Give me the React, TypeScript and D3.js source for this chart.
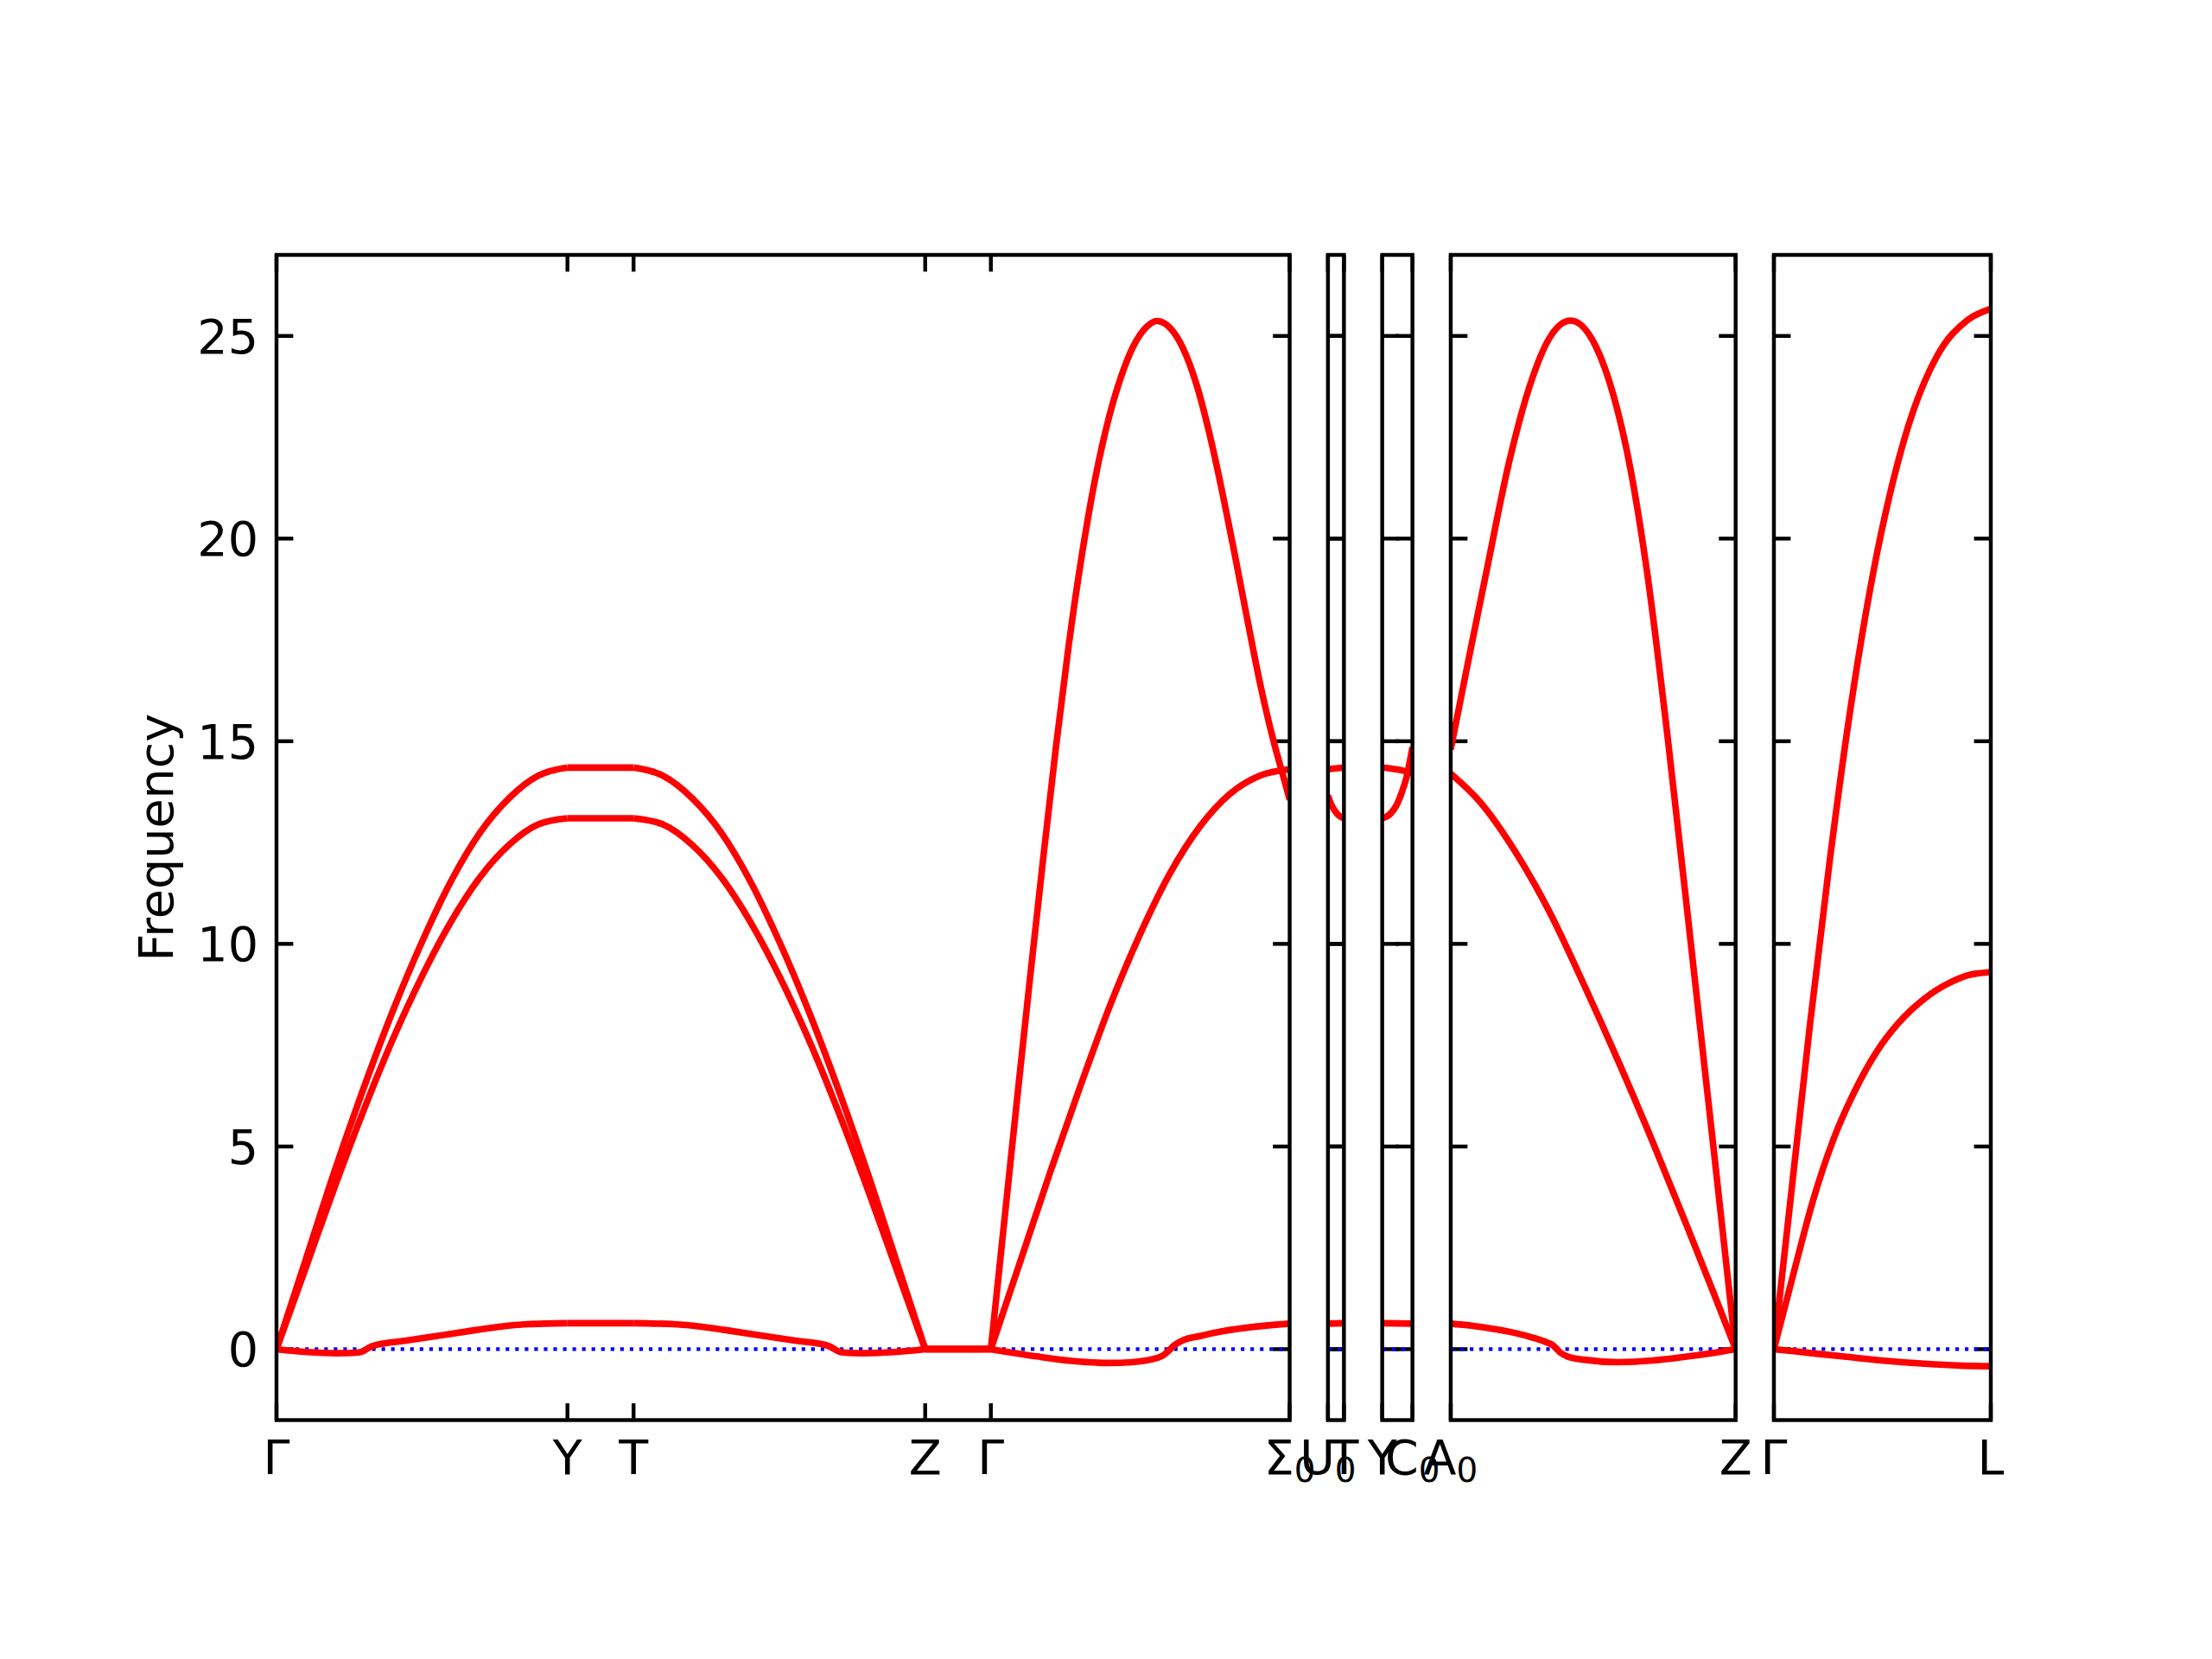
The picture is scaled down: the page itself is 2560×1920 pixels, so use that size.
import React from "react";
import * as d3 from "d3";

type Pt = [number, number];

// ---------------- data ----------------
const Y_DOMAIN: [number, number] = [-1.75, 27];
const FREQ_TICKS = [0, 5, 10, 15, 20, 25];
const Y_LABEL = "Frequency";

// Panel 1: Γ–Y–T–Z–Γ–Σ0
const P1_TICKS = [0, 0.3367, 0.4132, 0.7507, 0.8267, 1.1725];
const P1_LABELS = ["Γ", "Y", "T", "Z", "Γ", "Σ_0"];
const P1_BAND_A: Pt[] = [
  [0, 0], [0.0337, 2.2], [0.0673, 4.4], [0.101, 6.45], [0.1347, 8.35], [0.1684, 10.05],
  [0.202, 11.55], [0.2357, 12.75], [0.2694, 13.6], [0.303, 14.15], [0.3367, 14.35],
  [0.4132, 14.35], [0.447, 14.15], [0.4807, 13.6], [0.5145, 12.75], [0.5482, 11.55],
  [0.582, 10.05], [0.6157, 8.35], [0.6495, 6.45], [0.6832, 4.4], [0.717, 2.2], [0.7507, 0],
  [0.8267, 0], [0.8417, 3.05], [0.8567, 6.1], [0.8717, 9.1], [0.8867, 12.0], [0.9017, 14.8],
  [0.9167, 17.35], [0.9317, 19.55], [0.9467, 21.4], [0.9617, 22.85], [0.9767, 23.95],
  [0.9917, 24.75], [1.0067, 25.22], [1.019, 25.37], [1.034, 25.2], [1.049, 24.7],
  [1.064, 23.85], [1.079, 22.65], [1.094, 21.2], [1.109, 19.6], [1.124, 17.95],
  [1.139, 16.35], [1.1545, 14.95], [1.1633, 14.27], [1.1725, 13.56],
];
const P1_BAND_B: Pt[] = [
  [0, 0], [0.0337, 2.0], [0.0673, 4.0], [0.101, 5.9], [0.1347, 7.65], [0.1684, 9.2],
  [0.202, 10.55], [0.2357, 11.65], [0.2694, 12.45], [0.303, 12.95], [0.3367, 13.1],
  [0.4132, 13.1], [0.447, 12.95], [0.4807, 12.45], [0.5145, 11.65], [0.5482, 10.55],
  [0.582, 9.2], [0.6157, 7.65], [0.6495, 5.9], [0.6832, 4.0], [0.717, 2.0], [0.7507, 0],
  [0.8267, 0], [0.8613, 2.2], [0.8959, 4.4], [0.9304, 6.5], [0.965, 8.5], [0.9996, 10.25],
  [1.0342, 11.75], [1.0688, 12.9], [1.1033, 13.7], [1.1379, 14.15], [1.1725, 14.31],
];
const P1_BAND_C: Pt[] = [
  [0, 0], [0.035, -0.07], [0.07, -0.1], [0.095, -0.08], [0.102, -0.03], [0.108, 0.05],
  [0.115, 0.1], [0.15, 0.21], [0.19, 0.34], [0.23, 0.47], [0.26, 0.56], [0.29, 0.615],
  [0.3367, 0.64], [0.4132, 0.64], [0.46, 0.615], [0.49, 0.56], [0.52, 0.47], [0.56, 0.34],
  [0.6, 0.21], [0.636, 0.1], [0.642, 0.05], [0.648, -0.03], [0.655, -0.08], [0.68, -0.1],
  [0.715, -0.07], [0.7507, 0], [0.8267, 0], [0.88, -0.18], [0.92, -0.29], [0.963, -0.34],
  [0.99, -0.32], [1.013, -0.25], [1.027, -0.14], [1.033, -0.03], [1.038, 0.08], [1.047, 0.2],
  [1.07, 0.33], [1.097, 0.45], [1.13, 0.55], [1.1725, 0.63],
];

// Panel 2: U0–T
const P2_TICKS = [1.1725, 1.191];
const P2_LABELS = ["U_0", "T"];
const P2_BAND_A: Pt[] = [[1.1725, 14.31], [1.191, 14.35]];
const P2_BAND_B: Pt[] = [[1.1725, 13.66], [1.176, 13.45], [1.18, 13.3], [1.185, 13.17], [1.191, 13.1]];
const P2_BAND_C: Pt[] = [[1.1725, 0.63], [1.191, 0.64]];

// Panel 3: Y–C0
const P3_TICKS = [1.191, 1.226];
const P3_LABELS = ["Y", "C_0"];
const P3_BAND_A: Pt[] = [[1.191, 14.35], [1.2, 14.33], [1.21, 14.3], [1.218, 14.26], [1.226, 14.22]];
const P3_BAND_B: Pt[] = [[1.191, 13.1], [1.2, 13.2], [1.207, 13.4], [1.213, 13.7], [1.219, 14.1], [1.226, 14.85]];
const P3_BAND_C: Pt[] = [[1.191, 0.64], [1.226, 0.63]];

// Panel 4: A0–Z
const P4_TICKS = [1.226, 1.5557];
const P4_LABELS = ["A_0", "Z"];
const P4_BAND_A: Pt[] = [
  [1.226, 14.8], [1.2465, 17.0], [1.2665, 19.1], [1.2937, 21.9], [1.317, 23.74], [1.3403, 24.95],
  [1.3647, 25.38], [1.3937, 24.75], [1.4137, 23.58], [1.4337, 21.75], [1.4537, 19.1],
  [1.477, 15.1], [1.506, 9.6], [1.532, 4.6], [1.5557, 0],
];
const P4_BAND_B: Pt[] = [
  [1.226, 14.2], [1.26, 13.5], [1.3, 12.3], [1.34, 10.8], [1.38, 9.0], [1.42, 7.1],
  [1.46, 5.1], [1.5, 3.0], [1.53, 1.4], [1.5557, 0],
];
const P4_BAND_C: Pt[] = [
  [1.226, 0.63], [1.25, 0.58], [1.275, 0.5], [1.3, 0.4], [1.32, 0.29], [1.338, 0.16],
  [1.344, 0.1], [1.348, 0.02], [1.352, -0.07], [1.36, -0.17], [1.38, -0.26], [1.42, -0.32],
  [1.46, -0.28], [1.497, -0.19], [1.53, -0.09], [1.5557, 0],
];

// Panel 5: Γ–L
const P5_TICKS = [1.5557, 1.8067];
const P5_LABELS = ["Γ", "L"];
const P5_BAND_A: Pt[] = [
  [1.5557, 0], [1.576, 3.9], [1.5974, 8.0], [1.62, 12.0], [1.6415, 15.4], [1.671, 19.2],
  [1.69, 21.1], [1.7101, 22.7], [1.7444, 24.5], [1.7803, 25.4], [1.8067, 25.67],
];
const P5_BAND_B: Pt[] = [
  [1.5557, 0], [1.58, 2.0], [1.6, 3.6], [1.625, 5.2], [1.65, 6.4], [1.675, 7.35],
  [1.7, 8.05], [1.73, 8.65], [1.76, 9.05], [1.785, 9.25], [1.8067, 9.3],
];
const P5_BAND_C: Pt[] = [
  [1.5557, 0], [1.6, -0.1], [1.64, -0.19], [1.686, -0.29], [1.73, -0.36], [1.77, -0.405],
  [1.8067, -0.42],
];

const PANELS = [
  { ticks: P1_TICKS, labels: P1_LABELS, bands: [P1_BAND_A, P1_BAND_B, P1_BAND_C] },
  { ticks: P2_TICKS, labels: P2_LABELS, bands: [P2_BAND_A, P2_BAND_B, P2_BAND_C] },
  { ticks: P3_TICKS, labels: P3_LABELS, bands: [P3_BAND_A, P3_BAND_B, P3_BAND_C] },
  { ticks: P4_TICKS, labels: P4_LABELS, bands: [P4_BAND_A, P4_BAND_B, P4_BAND_C] },
  { ticks: P5_TICKS, labels: P5_LABELS, bands: [P5_BAND_A, P5_BAND_B, P5_BAND_C] },
];

// ---------------- layout / style ----------------
const W = 2560;
const H = 1920;
const LEFT = 320;
const RIGHT = 2304;
const TOP = 295;
const BOTTOM = 1643.5;
const GAP = 44.3;
const FONT = "DejaVu Sans, Bitstream Vera Sans, sans-serif";
const FS = 55.56;
const SUB_FS = 38.9;
const TICK_LEN = 19.4;
const SPINE_W = 4.44;
const LINE_W = 7.6;

function Label({ x, y, text }: { x: number; y: number; text: string }) {
  const [base, sub] = text.split("_");
  return (
    <text x={x} y={y} textAnchor="middle" fontFamily={FONT} fontSize={FS} fill="#000">
      {base}
      {sub !== undefined && (
        <tspan fontSize={SUB_FS} dy={9}>
          {sub}
        </tspan>
      )}
    </text>
  );
}

export default function App() {
  const spans = PANELS.map((p) => p.ticks[p.ticks.length - 1] - p.ticks[0]);
  const total = d3.sum(spans);
  const ppu = (RIGHT - LEFT - GAP * (PANELS.length - 1)) / total;
  let cur = LEFT;
  const layouts = PANELS.map((p, i) => {
    const w = spans[i] * ppu;
    const r = { x0: cur, x1: cur + w };
    cur += w + GAP;
    return r;
  });

  const y = d3.scaleLinear().domain(Y_DOMAIN).range([BOTTOM, TOP]);

  return (
    <svg
      width={W}
      height={H}
      viewBox={`0 0 ${W} ${H}`}
      style={{ position: "absolute", left: 0, top: 0, background: "#fff" }}
    >
      <rect x={0} y={0} width={W} height={H} fill="#fff" />
      <defs>
        {layouts.map((l, i) => (
          <clipPath id={`clip${i}`} key={i}>
            <rect x={l.x0} y={TOP} width={l.x1 - l.x0} height={BOTTOM - TOP} />
          </clipPath>
        ))}
      </defs>
      {PANELS.map((p, i) => {
        const { x0, x1 } = layouts[i];
        const x = d3
          .scaleLinear()
          .domain([p.ticks[0], p.ticks[p.ticks.length - 1]])
          .range([x0, x1]);
        const line = d3
          .line<Pt>()
          .x((d) => x(d[0]))
          .y((d) => y(d[1]))
          .curve(d3.curveMonotoneX);
        const segPaths: string[] = [];
        p.bands.forEach((band) => {
          for (let k = 0; k < p.ticks.length - 1; k++) {
            const a = p.ticks[k] - 1e-6;
            const b = p.ticks[k + 1] + 1e-6;
            const pts = band.filter((d) => d[0] >= a && d[0] <= b);
            if (pts.length >= 2) segPaths.push(line(pts) as string);
          }
        });
        return (
          <g key={i}>
            {FREQ_TICKS.map((t) => (
              <g key={`yt${t}`} stroke="#000" strokeWidth={SPINE_W}>
                <line x1={x0} x2={x0 + TICK_LEN} y1={y(t)} y2={y(t)} />
                <line x1={x1 - TICK_LEN} x2={x1} y1={y(t)} y2={y(t)} />
              </g>
            ))}
            {p.ticks.map((t, k) => (
              <g key={`xt${k}`} stroke="#000" strokeWidth={SPINE_W}>
                <line x1={x(t)} x2={x(t)} y1={BOTTOM} y2={BOTTOM - TICK_LEN} />
                <line x1={x(t)} x2={x(t)} y1={TOP} y2={TOP + TICK_LEN} />
              </g>
            ))}
            <g clipPath={`url(#clip${i})`}>
              <line
                x1={x0}
                x2={x1}
                y1={y(0)}
                y2={y(0)}
                stroke="#0000ff"
                strokeWidth={4.17}
                strokeDasharray="4.17 6.88"
              />
              {segPaths.map((d, k) => (
                <path
                  key={k}
                  d={d}
                  fill="none"
                  stroke="#ff0000"
                  strokeWidth={LINE_W}
                  strokeLinejoin="round"
                  strokeLinecap="butt"
                />
              ))}
            </g>
            <rect
              x={x0}
              y={TOP}
              width={x1 - x0}
              height={BOTTOM - TOP}
              fill="none"
              stroke="#000"
              strokeWidth={SPINE_W}
            />
            {p.ticks.map((t, k) => (
              <Label key={`xl${k}`} x={x(t)} y={1706} text={p.labels[k]} />
            ))}
            {i === 0 &&
              FREQ_TICKS.map((t) => (
                <text
                  key={`yl${t}`}
                  x={299}
                  y={y(t) + 20}
                  textAnchor="end"
                  fontFamily={FONT}
                  fontSize={FS}
                  fill="#000"
                >
                  {t}
                </text>
              ))}
          </g>
        );
      })}
      <text
        transform={`translate(200, ${(TOP + BOTTOM) / 2}) rotate(-90)`}
        textAnchor="middle"
        fontFamily={FONT}
        fontSize={FS}
        fill="#000"
      >
        {Y_LABEL}
      </text>
    </svg>
  );
}
